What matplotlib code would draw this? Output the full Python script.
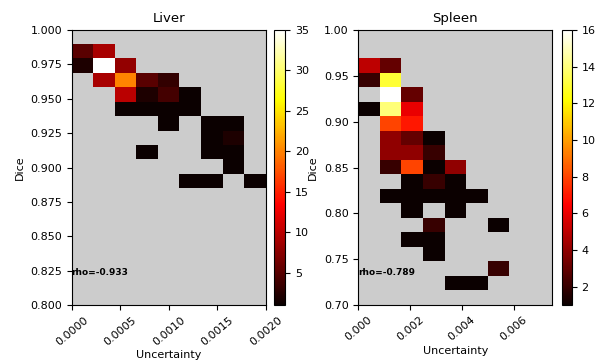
import numpy as np
from matplotlib import pyplot as plt
from matplotlib.ticker import FormatStrFormatter

n = np.nan

# 2d histogram counts, rows listed top (high Dice) to bottom, empty bins = nan
liver_counts = [
    [5, 9, n, n, n, n, n, n, n],
    [2, 35, 8, n, n, n, n, n, n],
    [n, 9, 20, 5, 3, n, n, n, n],
    [n, n, 10, 2, 4, 1, n, n, n],
    [n, n, 1, 1, 1, 1, n, n, n],
    [n, n, n, n, 1, n, 1, 1, n],
    [n, n, n, n, n, n, 1, 2, n],
    [n, n, n, 1, n, n, 1, 1, n],
    [n, n, n, n, n, n, n, 1, n],
    [n, n, n, n, n, 1, 1, n, 1],
]
spleen_counts = [
    [5, 3, n, n, n, n, n, n, n],
    [2, 13, n, n, n, n, n, n, n],
    [n, 16, 3, n, n, n, n, n, n],
    [1, 14, 6, n, n, n, n, n, n],
    [n, 8, 7, n, n, n, n, n, n],
    [n, 4, 3, 1, n, n, n, n, n],
    [n, 4, 4, 2, n, n, n, n, n],
    [n, 2, 8, 1, 4, n, n, n, n],
    [n, n, 1, 2, 1, n, n, n, n],
    [n, 1, 1, 1, 1, 1, n, n, n],
    [n, n, 1, n, 1, n, n, n, n],
    [n, n, n, 2, n, n, 1, n, n],
    [n, n, 1, 1, n, n, n, n, n],
    [n, n, n, 1, n, n, n, n, n],
    [n, n, n, n, n, n, 2, n, n],
    [n, n, n, n, 1, 1, n, n, n],
]

liver_x_range = (0.0, 0.002)
liver_y_range = (0.8849, 0.9898)
spleen_x_range = (0.0, 0.0075)
spleen_y_range = (0.7164, 0.9691)

liver_rho = -0.933
spleen_rho = -0.789

liver_xticks = [0.0, 0.0005, 0.001, 0.0015, 0.002]
liver_yticks = [0.800, 0.825, 0.850, 0.875, 0.900, 0.925, 0.950, 0.975, 1.000]
spleen_xticks = [0.0, 0.002, 0.004, 0.006]
spleen_yticks = [0.70, 0.75, 0.80, 0.85, 0.90, 0.95, 1.00]
liver_cticks = [5, 10, 15, 20, 25, 30, 35]
spleen_cticks = [2, 4, 6, 8, 10, 12, 14, 16]


def draw(ax, cax, counts, xr, yr, ylim, vmax, title, rho,
         xticks, yticks, cticks, xfmt, yfmt):
    counts = np.flipud(np.array(counts, dtype=float))
    xedges = np.linspace(xr[0], xr[1], counts.shape[1] + 1)
    yedges = np.linspace(yr[0], yr[1], counts.shape[0] + 1)
    mesh = ax.pcolormesh(xedges, yedges, np.ma.masked_invalid(counts),
                         cmap="hot", vmin=1, vmax=vmax)
    ax.set_facecolor("0.8")
    ax.set_xlim(xr)
    ax.set_ylim(ylim)
    ax.set_xticks(xticks)
    ax.set_yticks(yticks)
    ax.xaxis.set_major_formatter(FormatStrFormatter(xfmt))
    ax.yaxis.set_major_formatter(FormatStrFormatter(yfmt))
    ax.tick_params(labelsize=8)
    plt.setp(ax.get_xticklabels(), rotation=40)
    ax.set_title(title, fontsize=9.5)
    ax.set_xlabel("Uncertainty", fontsize=8, labelpad=2)
    ax.set_ylabel("Dice", fontsize=8)
    ax.text(0.0, 0.117, "rho=%.3f" % rho, transform=ax.transAxes,
            fontsize=6.5, fontweight="bold", va="center")
    cb = plt.colorbar(mesh, cax=cax)
    cb.set_ticks(cticks)
    cb.ax.tick_params(labelsize=8)


fig = plt.figure(figsize=(6, 3.64), dpi=100)
ax1 = fig.add_axes([0.1195, 0.162, 0.3233, 0.7555])
cax1 = fig.add_axes([0.4567, 0.162, 0.0183, 0.7555])
ax2 = fig.add_axes([0.5972, 0.162, 0.3233, 0.7555])
cax2 = fig.add_axes([0.9362, 0.162, 0.0167, 0.7555])

draw(ax1, cax1, liver_counts, liver_x_range, liver_y_range, (0.8, 1.0), 35,
     "Liver", liver_rho, liver_xticks, liver_yticks, liver_cticks, "%.4f", "%.3f")
draw(ax2, cax2, spleen_counts, spleen_x_range, spleen_y_range, (0.7, 1.0), 16,
     "Spleen", spleen_rho, spleen_xticks, spleen_yticks, spleen_cticks, "%.3f", "%.2f")

plt.savefig("out.png")
